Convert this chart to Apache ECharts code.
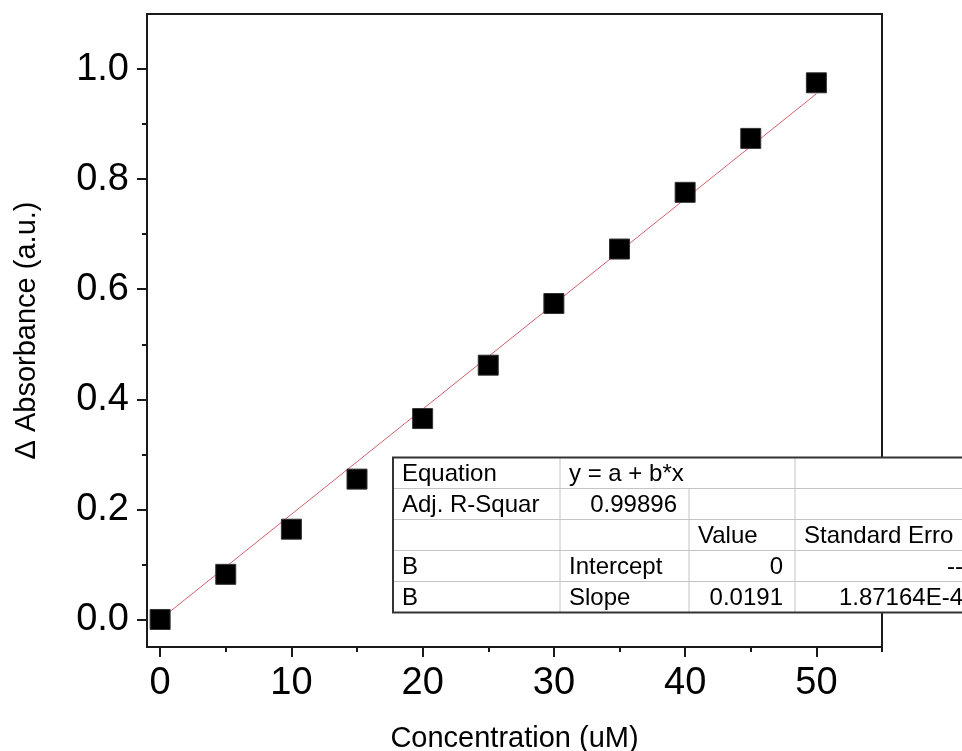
<!DOCTYPE html>
<html>
<head>
<meta charset="utf-8">
<script src="https://cdn.jsdelivr.net/npm/echarts@6/dist/echarts.min.js"></script>
<style>
  html, body { margin: 0; padding: 0; background: #fff; }
  #chart { width: 962px; height: 751px; }
</style>
</head>
<body>
<div id="chart"></div>
<script>
// measured points (concentration vs delta absorbance)
const concentration = [0, 5, 10, 15, 20, 25, 30, 35, 40, 45, 50];
const absorbance = [0, 0.082, 0.164, 0.255, 0.365, 0.462, 0.574, 0.673, 0.776, 0.874, 0.975];

// linear fit y = b*x, drawn between its end points
const fitX = [0, 50];
const fitY = [0, 0.955];

const xMajorTicks = [0, 10, 20, 30, 40, 50];
const xMinorTicks = [5, 15, 25, 35, 45, 55];
const yMajorTicks = [0, 0.2, 0.4, 0.6, 0.8, 1.0];
const yMinorTicks = [0.1, 0.3, 0.5, 0.7, 0.9];

// fit result table, as shown on the plot
const tableRows = [
  ['Equation', 'y = a + b*x', '', ''],
  ['Adj. R-Squar', '0.99896', '', ''],
  ['', '', 'Value', 'Standard Erro'],
  ['B', 'Intercept', '0', '--'],
  ['B', 'Slope', '0.0191', '1.87164E-4'],
];

const FONT = "'Liberation Sans', Arial, sans-serif";
const INK = '#1a1a1a';

const chart = echarts.init(document.getElementById('chart'), null, { renderer: 'canvas' });

function buildTable() {
  const colX = [393, 560, 689, 795, 975];
  const top = 457.5;
  const rowH = 31;
  const els = [];
  const nRows = tableRows.length;

  els.push({
    type: 'rect',
    shape: { x: colX[0], y: top, width: colX[4] - colX[0], height: rowH * nRows },
    style: { fill: '#fff', stroke: 'none' },
  });

  // inner horizontal lines
  for (let r = 1; r < nRows; r++) {
    const y = top + r * rowH;
    els.push({
      type: 'line',
      shape: { x1: colX[0], y1: y, x2: colX[4], y2: y },
      style: { stroke: '#c4c4c4', lineWidth: 1 },
    });
  }
  // inner vertical lines (second divider skipped in the equation row)
  [1, 2, 3].forEach((c) => {
    const startRow = c === 2 ? 1 : 0;
    els.push({
      type: 'line',
      shape: { x1: colX[c], y1: top + startRow * rowH, x2: colX[c], y2: top + nRows * rowH },
      style: { stroke: '#c4c4c4', lineWidth: 1 },
    });
  });

  // outer border
  els.push({
    type: 'rect',
    shape: { x: colX[0], y: top, width: colX[4] - colX[0], height: rowH * nRows },
    style: { fill: 'none', stroke: '#333', lineWidth: 2 },
  });

  const rightAligned = (r, c) => (r === 1 && c === 1) || (r >= 3 && c >= 2);

  tableRows.forEach((row, r) => {
    row.forEach((txt, c) => {
      if (!txt) return;
      const right = rightAligned(r, c);
      els.push({
        type: 'text',
        style: {
          text: txt,
          x: right ? colX[c + 1] - 12 : colX[c] + 9,
          y: top + r * rowH + rowH / 2 + 1,
          align: right ? 'right' : 'left',
          verticalAlign: 'middle',
          font: '24px ' + FONT,
          fill: '#000',
        },
      });
    });
  });

  return { type: 'group', z: 100, children: els };
}

const option = {
  backgroundColor: '#fff',
  animation: false,
  grid: {
    left: 147,
    top: 14,
    right: 80,
    bottom: 104,
    outerBoundsMode: 'none',
    show: true,
    borderColor: INK,
    borderWidth: 2,
    backgroundColor: 'transparent',
  },
  xAxis: [
    {
      type: 'value',
      min: -1,
      max: 55,
      name: 'Concentration (uM)',
      nameLocation: 'middle',
      nameGap: 77,
      nameTextStyle: { fontFamily: FONT, fontSize: 29, color: '#000' },
      axisLine: { show: true, onZero: false, lineStyle: { color: INK, width: 2 } },
      axisTick: { show: true, customValues: xMajorTicks, length: 10, lineStyle: { color: INK, width: 2 } },
      axisLabel: {
        customValues: xMajorTicks,
        margin: 18,
        fontFamily: FONT,
        fontSize: 38,
        color: '#000',
      },
      splitLine: { show: false },
    },
    {
      type: 'value',
      position: 'bottom',
      min: -1,
      max: 55,
      axisLine: { show: false, onZero: false },
      axisTick: { show: true, customValues: xMinorTicks, length: 5, lineStyle: { color: INK, width: 2 } },
      axisLabel: { show: false },
      splitLine: { show: false },
    },
  ],
  yAxis: [
    {
      type: 'value',
      min: -0.05,
      max: 1.1,
      name: '\u0394 Absorbance (a.u.)',
      nameLocation: 'middle',
      nameGap: 106,
      nameTextStyle: { fontFamily: FONT, fontSize: 29, color: '#000' },
      axisLine: { show: true, onZero: false, lineStyle: { color: INK, width: 2 } },
      axisTick: { show: true, customValues: yMajorTicks, length: 10, lineStyle: { color: INK, width: 2 } },
      axisLabel: {
        customValues: yMajorTicks,
        margin: 18,
        fontFamily: FONT,
        fontSize: 38,
        color: '#000',
        formatter: v => v.toFixed(1),
      },
      splitLine: { show: false },
    },
    {
      type: 'value',
      position: 'left',
      min: -0.05,
      max: 1.1,
      axisLine: { show: false, onZero: false },
      axisTick: { show: true, customValues: yMinorTicks, length: 5, lineStyle: { color: INK, width: 2 } },
      axisLabel: { show: false },
      splitLine: { show: false },
    },
  ],
  series: [
    {
      type: 'line',
      data: fitX.map((x, i) => [x, fitY[i]]),
      showSymbol: false,
      symbol: 'none',
      lineStyle: { color: '#d4606c', width: 1 },
      z: 2,
    },
    {
      type: 'scatter',
      data: concentration.map((x, i) => [x, absorbance[i]]),
      symbol: 'rect',
      symbolSize: 20,
      itemStyle: { color: '#000', borderColor: '#333', borderWidth: 1, opacity: 1 },
      z: 3,
    },
  ],
  graphic: [buildTable()],
};

chart.setOption(option);
</script>
</body>
</html>
